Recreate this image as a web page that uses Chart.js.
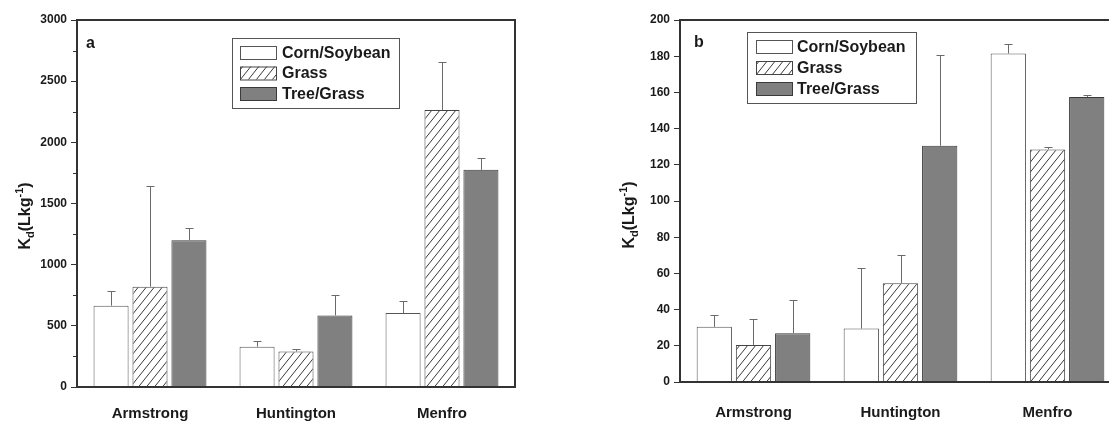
<!DOCTYPE html>
<html>
<head>
<meta charset="utf-8">
<script src="https://cdn.jsdelivr.net/npm/chart.js@4.4.1/dist/chart.umd.min.js"></script>
<style>
  html, body { margin: 0; padding: 0; background: #fff; overflow: hidden; width: 1109px; height: 421px; }
  #wrapA { position: absolute; left: 0; top: 0; width: 560px; height: 421px; }
  #wrapB { position: absolute; left: 560px; top: 0; width: 600px; height: 421px; }
</style>
</head>
<body>
<div id="wrapA"><canvas id="chartA"></canvas></div>
<div id="wrapB"><canvas id="chartB"></canvas></div>
<script>
// Sites and land-use series
const sites = ['Armstrong', 'Huntington', 'Menfro'];
const seriesNames = ['Corn/Soybean', 'Grass', 'Tree/Grass'];

// Panel a: Kd means and standard deviations (L/kg)
const aCorn    = [665, 330, 605];
const aCornSd  = [120, 45, 95];
const aGrass   = [820, 290, 2265];
const aGrassSd = [825, 20, 390];
const aTree    = [1200, 585, 1775];
const aTreeSd  = [100, 165, 95];
const aMajorTicks = [0, 500, 1000, 1500, 2000, 2500, 3000];
const aMinorTicks = [250, 750, 1250, 1750, 2250, 2750];

// Panel b: Kd means and standard deviations (L/kg)
const bCorn    = [30.5, 29.5, 181.5];
const bCornSd  = [6.5, 33.5, 5];
const bGrass   = [20.5, 54.5, 128.5];
const bGrassSd = [14.5, 15.5, 1.5];
const bTree    = [27, 130.5, 157.5];
const bTreeSd  = [18.5, 50, 0.8];
const bMajorTicks = [0, 20, 40, 60, 80, 100, 120, 140, 160, 180, 200];
const bMinorTicks = [];

const FONT = "'Liberation Sans', Arial, Helvetica, sans-serif";
const INK = '#1a1a1a';
const FRAME = '#333333';

// Diagonal hatch fill for the Grass bars
function makeHatch() {
  const w = 8, h = 10;
  const c = document.createElement('canvas');
  c.width = w; c.height = h;
  const g = c.getContext('2d');
  g.fillStyle = '#ffffff';
  g.fillRect(0, 0, w, h);
  g.strokeStyle = '#3a3a3a';
  g.lineWidth = 1;
  g.beginPath();
  g.moveTo(0, h); g.lineTo(w, 0);
  g.moveTo(-w, h); g.lineTo(0, 0);
  g.moveTo(w, h); g.lineTo(2 * w, 0);
  g.stroke();
  return g.createPattern(c, 'repeat');
}
const hatch = makeHatch();

// Upper error bars from each dataset's sd array
const errorBars = {
  id: 'errorBars',
  afterDatasetsDraw(chart) {
    const ctx = chart.ctx;
    const y = chart.scales.y;
    chart.data.datasets.forEach((ds, i) => {
      const meta = chart.getDatasetMeta(i);
      meta.data.forEach((bar, j) => {
        const top = Math.round(y.getPixelForValue(ds.data[j] + ds.sd[j])) + 0.5;
        const x = Math.round(bar.x) + 0.5;
        ctx.save();
        ctx.strokeStyle = '#6a6a6a';
        ctx.lineWidth = 1;
        ctx.beginPath();
        ctx.moveTo(x, bar.y);
        ctx.lineTo(x, top);
        ctx.moveTo(x - 4, top);
        ctx.lineTo(x + 4, top);
        ctx.stroke();
        ctx.restore();
      });
    });
  }
};

// Closed frame, minor ticks, panel letter, axis title and boxed legend
const decorations = {
  id: 'decorations',
  afterDraw(chart, args, o) {
    const ctx = chart.ctx;
    const a = chart.chartArea;
    const y = chart.scales.y;
    ctx.save();
    // frame
    ctx.strokeStyle = FRAME;
    ctx.lineWidth = 2;
    ctx.strokeRect(a.left, a.top, a.right - a.left, a.bottom - a.top);
    // minor ticks
    ctx.lineWidth = 1;
    ctx.beginPath();
    o.minor.forEach(v => {
      const py = Math.round(y.getPixelForValue(v)) + 0.5;
      ctx.moveTo(a.left - 4, py);
      ctx.lineTo(a.left, py);
    });
    ctx.stroke();
    // panel letter
    ctx.fillStyle = INK;
    ctx.font = 'bold 16px ' + FONT;
    ctx.textBaseline = 'alphabetic';
    ctx.textAlign = 'left';
    ctx.fillText(o.letter, o.letterX, o.letterY);
    // y-axis title K_d(Lkg^-1)
    ctx.save();
    ctx.translate(o.titleX, o.titleY);
    ctx.rotate(-Math.PI / 2);
    const parts = [
      { t: 'K', size: 16, dy: 0 },
      { t: 'd', size: 11, dy: 4 },
      { t: '(Lkg', size: 16, dy: 0 },
      { t: '-1', size: 11, dy: -7 },
      { t: ')', size: 16, dy: 0 }
    ];
    let total = 0;
    parts.forEach(p => { ctx.font = 'bold ' + p.size + 'px ' + FONT; p.w = ctx.measureText(p.t).width; total += p.w; });
    let tx = -total / 2;
    parts.forEach(p => {
      ctx.font = 'bold ' + p.size + 'px ' + FONT;
      ctx.fillText(p.t, tx, p.dy);
      tx += p.w;
    });
    ctx.restore();
    // legend
    const L = o.legend;
    ctx.strokeStyle = '#555';
    ctx.lineWidth = 1;
    ctx.fillStyle = '#fff';
    ctx.fillRect(L.x, L.y, L.w, L.h);
    ctx.strokeRect(L.x + 0.5, L.y + 0.5, L.w, L.h);
    chart.data.datasets.forEach((ds, i) => {
      const ry = L.rows[i];
      ctx.fillStyle = ds.backgroundColor;
      ctx.fillRect(L.sx, ry, L.sw, L.sh);
      ctx.strokeStyle = ds.borderColor;
      ctx.strokeRect(L.sx + 0.5, ry + 0.5, L.sw, L.sh);
      ctx.fillStyle = INK;
      ctx.font = 'bold 16px ' + FONT;
      ctx.textBaseline = 'middle';
      ctx.fillText(ds.label, L.tx, ry + L.sh / 2 + 1);
    });
    ctx.restore();
  }
};

function buildChart(id, p) {
  return new Chart(document.getElementById(id), {
    type: 'bar',
    data: {
      labels: sites,
      datasets: [
        { label: seriesNames[0], data: p.corn, sd: p.cornSd, backgroundColor: '#ffffff', borderColor: '#555555', borderWidth: 1 },
        { label: seriesNames[1], data: p.grass, sd: p.grassSd, backgroundColor: hatch, borderColor: '#444444', borderWidth: 1 },
        { label: seriesNames[2], data: p.tree, sd: p.treeSd, backgroundColor: '#808080', borderColor: '#3a3a3a', borderWidth: 1 }
      ]
    },
    options: {
      responsive: true,
      maintainAspectRatio: false,
      animation: false,
      devicePixelRatio: 1,
      datasets: { bar: { categoryPercentage: 0.8, barPercentage: 0.9 } },
      layout: { padding: { top: 20, left: 0, right: p.padRight, bottom: 0 } },
      plugins: {
        legend: { display: false },
        tooltip: { enabled: false },
        decorations: p.deco
      },
      scales: {
        x: {
          grid: { display: false, drawTicks: false },
          border: { display: true, color: FRAME, width: 2 },
          ticks: { color: INK, font: { family: FONT, weight: 'bold', size: 15 }, padding: p.xPad },
          afterFit: s => { s.height = p.xHeight; }
        },
        y: {
          min: 0,
          max: p.major[p.major.length - 1],
          afterBuildTicks: s => { s.ticks = p.major.map(v => ({ value: v })); },
          afterFit: s => { s.width = p.yWidth; },
          grid: { drawOnChartArea: false, drawTicks: true, tickLength: 6, color: FRAME, lineWidth: 1 },
          border: { display: true, color: FRAME, width: 2 },
          ticks: { color: INK, font: { family: FONT, weight: 'bold', size: 12 }, padding: 4, callback: v => String(v) }
        }
      }
    },
    plugins: [errorBars, decorations]
  });
}

buildChart('chartA', {
  corn: aCorn, cornSd: aCornSd, grass: aGrass, grassSd: aGrassSd, tree: aTree, treeSd: aTreeSd,
  major: aMajorTicks, padRight: 45, yWidth: 77, xHeight: 34, xPad: 18,
  deco: {
    minor: aMinorTicks, letter: 'a', letterX: 86, letterY: 48, titleX: 30, titleY: 216,
    legend: { x: 232, y: 38, w: 167, h: 70, sx: 240, sw: 36, sh: 13, rows: [46, 66.5, 87], tx: 282 }
  }
});

buildChart('chartB', {
  corn: bCorn, cornSd: bCornSd, grass: bGrass, grassSd: bGrassSd, tree: bTree, treeSd: bTreeSd,
  major: bMajorTicks, padRight: 39, yWidth: 120, xHeight: 39, xPad: 22,
  deco: {
    minor: bMinorTicks, letter: 'b', letterX: 134, letterY: 47, titleX: 74, titleY: 215,
    legend: { x: 187, y: 32, w: 169, h: 71, sx: 196, sw: 36, sh: 13, rows: [40, 61, 82], tx: 237 }
  }
});
</script>
</body>
</html>
